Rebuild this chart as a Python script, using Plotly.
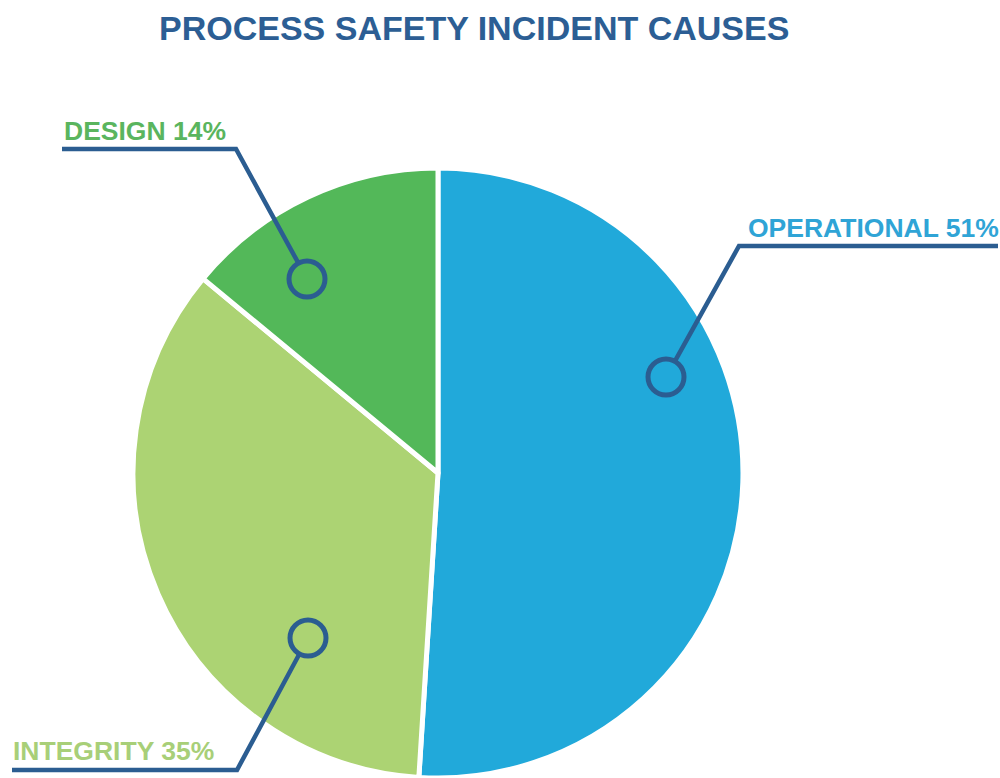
import plotly.graph_objects as go

W, H = 1000, 778

# ---- data ----
categories = ["OPERATIONAL", "INTEGRITY", "DESIGN"]
values = [51, 35, 14]
slice_colors = ["#21A9DA", "#ACD373", "#53B859"]
label_colors = ["#2FA4D6", "#A8CF78", "#5AB55E"]
title_text = "PROCESS SAFETY INCIDENT CAUSES"

LINE_C = "#2B5D91"


def X(px):
    return px / W


def Y(py):
    return 1 - py / H


fig = go.Figure()
fig.add_trace(go.Pie(
    labels=categories,
    values=values,
    sort=False,
    direction="clockwise",
    rotation=0,
    marker=dict(colors=slice_colors, line=dict(color="white", width=5)),
    textinfo="none",
    hoverinfo="label+percent",
    showlegend=False,
    domain=dict(x=[0.133, 0.743], y=[0.0, 0.784]),
))

# callout layout (pixel positions): label anchor, line path, circle centre
callouts = {
    "DESIGN": dict(text_xy=(62, 131), path=[(62, 149), (236, 149), (298.4, 263.2)], circle=(307, 279)),
    "OPERATIONAL": dict(text_xy=(746, 228), path=[(998, 246), (739, 246), (674.8, 361.3)], circle=(666, 377)),
    "INTEGRITY": dict(text_xy=(11, 751), path=[(12, 770), (237, 770), (299.5, 653.8)], circle=(308, 638)),
}

shapes = []
annotations = []
R = 18
for cat, val, col in zip(categories, values, label_colors):
    c = callouts[cat]
    pts = c["path"]
    d = "M " + " L ".join(f"{X(px):.5f},{Y(py):.5f}" for px, py in pts)
    shapes.append(dict(type="path", xref="paper", yref="paper", path=d,
                       line=dict(color=LINE_C, width=4.5)))
    cx, cy = c["circle"]
    shapes.append(dict(type="circle", xref="paper", yref="paper",
                       x0=X(cx - R), x1=X(cx + R), y0=Y(cy + R), y1=Y(cy - R),
                       line=dict(color=LINE_C, width=5), fillcolor="rgba(0,0,0,0)"))
    tx, ty = c["text_xy"]
    annotations.append(dict(xref="paper", yref="paper", x=X(tx), y=Y(ty),
                            xanchor="left", yanchor="middle", showarrow=False,
                            text=f"<b>{cat} {val}%</b>",
                            font=dict(family="Liberation Sans, Arial, sans-serif", size=26.5, color=col)))

annotations.append(dict(xref="paper", yref="paper", x=X(474), y=Y(28),
                        xanchor="center", yanchor="middle", showarrow=False,
                        text=f"<b>{title_text}</b>",
                        font=dict(family="Liberation Sans, Arial, sans-serif", size=34, color="#2C5E94")))

fig.update_layout(
    width=W, height=H,
    margin=dict(l=0, r=0, t=0, b=0),
    paper_bgcolor="white", plot_bgcolor="white",
    shapes=shapes, annotations=annotations,
)

fig.write_html(
    "out.html",
    config={"displayModeBar": False},
    post_script="document.body.style.margin='0';document.body.style.overflow='hidden';",
)
